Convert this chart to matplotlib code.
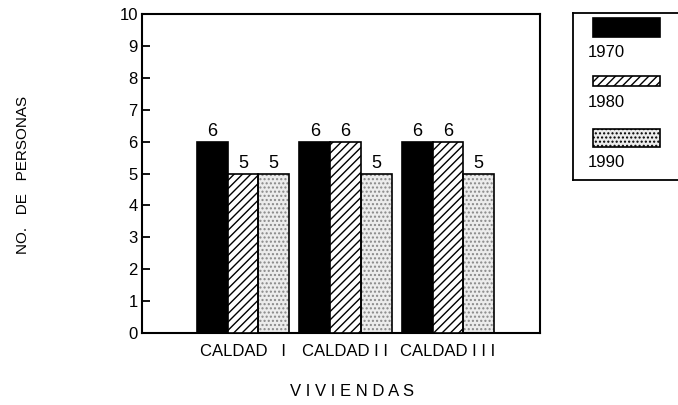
import matplotlib
matplotlib.use("Agg")
import matplotlib.pyplot as plt
from matplotlib.patches import Rectangle
import numpy as np

categories = ["CALDAD   I", "CALDAD I I", "CALDAD I I I"]
series_labels = ["1970", "1980", "1990"]
values = {
    "1970": [6, 6, 6],
    "1980": [5, 6, 6],
    "1990": [5, 5, 5],
}
yticks = list(range(0, 11))

plt.rcParams['font.family'] = ['Liberation Sans', 'DejaVu Sans']

fig = plt.figure(figsize=(6.78, 4.05), dpi=100)
W, H = 678, 405
ax = fig.add_axes([142 / W, 1 - 333 / H, (540 - 142) / W, (333 - 14) / H])

x = np.arange(len(categories))
bw = 0.30
styles = [
    dict(facecolor="black", hatch=None),
    dict(facecolor="white", hatch="////"),
    dict(facecolor="#ececec", hatch="...."),
]

for i, lab in enumerate(series_labels):
    pos = x + (i - 1) * bw
    st = styles[i]
    if st["hatch"] == "....":
        ax.bar(pos, values[lab], bw, facecolor=st["facecolor"], edgecolor="#888888",
               hatch=st["hatch"], linewidth=0, zorder=2)
        ax.bar(pos, values[lab], bw, fill=False, edgecolor="black", linewidth=1.2, zorder=3)
    else:
        ax.bar(pos, values[lab], bw, facecolor=st["facecolor"], edgecolor="black",
               hatch=st["hatch"], linewidth=1.2, zorder=3)
    for p, v in zip(pos, values[lab]):
        ax.text(p, v + 0.05, str(v), ha="center", va="bottom", fontsize=13)

ax.set_xlim(-0.985, 2.898)
ax.set_ylim(0, 10)
ax.set_yticks(yticks)
ax.set_yticklabels([str(t) for t in yticks], fontsize=12)
ax.tick_params(axis="y", direction="in", length=6, width=1.3, pad=3)
ax.set_xticks(x)
ax.set_xticklabels(categories, fontsize=12)
ax.tick_params(axis="x", length=0, pad=8)
for s in ax.spines.values():
    s.set_linewidth(1.5)

fig.text(352 / W, 1 - 392 / H, "V I V I E N D A S", ha="center", va="center", fontsize=12)
fig.text(23 / W, 1 - 175 / H, "NO.   DE   PERSONAS", ha="center", va="center",
         rotation=90, fontsize=11)

# legend box
lax = fig.add_axes([573 / W, 1 - 180 / H, (690 - 573) / W, (180 - 13) / H])
lax.set_xlim(0, 1)
lax.set_ylim(0, 1)
lax.set_xticks([])
lax.set_yticks([])
for s in lax.spines.values():
    s.set_linewidth(1.3)
patch_tops = [0.97, 0.623, 0.305]
patch_bottoms = [0.856, 0.563, 0.198]
text_ys = [0.766, 0.467, 0.102]
for i, lab in enumerate(series_labels):
    st = styles[i]
    lax.add_patch(Rectangle((0.171, patch_bottoms[i]), 0.573, patch_tops[i] - patch_bottoms[i],
                            facecolor=st["facecolor"], edgecolor="black",
                            hatch=st["hatch"], linewidth=1.2))
    lax.text(0.285, text_ys[i], lab, ha="center", va="center", fontsize=12)

fig.savefig("out.png", dpi=100)
